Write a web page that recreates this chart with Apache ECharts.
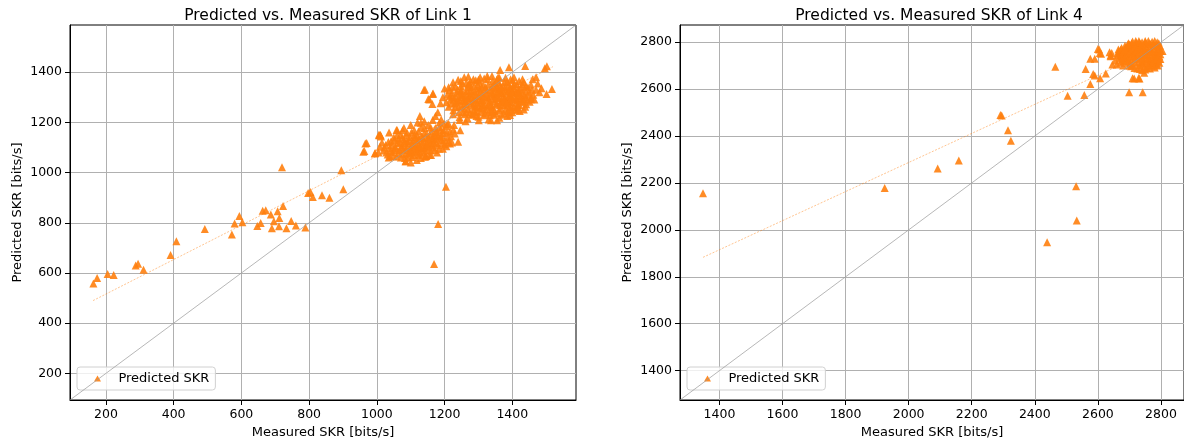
<!DOCTYPE html>
<html>
<head>
<meta charset="utf-8">
<script src="https://cdn.jsdelivr.net/npm/echarts@6/dist/echarts.min.js"></script>
<style>html,body{margin:0;padding:0;background:#fff}#c{width:1184px;height:447px}</style>
</head>
<body>
<div id="c"></div>
<script>
// ---------- Data ----------
const titles = ['Predicted vs. Measured SKR of Link 1', 'Predicted vs. Measured SKR of Link 4'];
const xLabel = 'Measured SKR [bits/s]';
const yLabel = 'Predicted SKR [bits/s]';
const seriesName = 'Predicted SKR';

const link1Range = [94, 1588];
const link4Range = [1275, 2873];
const link1Ticks = [200, 400, 600, 800, 1000, 1200, 1400];
const link4Ticks = [1400, 1600, 1800, 2000, 2200, 2400, 2600, 2800];

// fitted trend line end points (measured, predicted)
const link1Fit = [[162, 490], [1520, 1422]];
const link4Fit = [[1348, 1883], [2805, 2786]];

// Link 1 scattered points
const link1Sparse = [[163,558],[174,580],[205,596],[223,592],[288,630],[295,637],[311,613],[391,672],[408,726],[492,775],[572,753],[580,797],[594,827],[603,802],[647,787],[657,799],[663,848],[672,850],[687,833],[690,778],[696,806],[707,846],[711,786],[712,819],[720,1021],[723,867],[733,778],[747,807],[761,789],[789,781],[797,919],[804,923],[811,903],[838,910],[860,900],[895,1009],[901,934],[1169,636],[1181,795],[1204,944]];

// Link 1 middle cluster
const link1Mid = [[966,1116],[960,1083],[1007,1149],[1011,1149],[994,1076],[1060,1169],[1076,1169],[1035,1060],[1009,1103],[963,1086],[970,1118],[995,1078],[1006,1151],[1012,1144],[1038,1065],[1085,1045],[1144,1065],
[1020,1088],[1026,1110],[1032,1072],[1038,1098],[1042,1125],[1046,1082],[1050,1140],[1054,1104],[1058,1064],[1062,1120],[1066,1090],[1070,1150],[1073,1075],[1076,1108],[1080,1132],[1083,1058],[1086,1095],[1089,1160],[1092,1118],[1095,1078],[1098,1142],[1101,1100],[1104,1062],[1107,1128],[1110,1170],[1113,1086],[1116,1112],[1119,1148],[1122,1070],[1125,1135],[1128,1098],[1131,1180],[1134,1120],[1137,1082],[1140,1158],[1143,1104],[1146,1066],[1149,1140],[1152,1190],[1155,1115],[1158,1088],[1161,1165],[1164,1128],[1167,1100],[1170,1150],[1173,1178],[1176,1118],[1180,1145],[1184,1095],[1188,1170],[1192,1130],[1196,1158],[1200,1112],[1205,1185],[1210,1140],[1216,1165],[1222,1120],
[1005,1080],[1010,1150],[1015,1120],[1036,1160],[1058,1170],[1085,1045],[1100,1040],[1118,1050],[1130,1058],[1142,1063],[1160,1070],[1178,1080],[1195,1095],[1205,1105],[1230,1156],[1246,1169],[1240,1123],[1216,1116],[1080,1178],[1100,1190],[1120,1200],[1140,1205],[1165,1210],[1185,1200],[1127,1225],[1130,1199],
[1072,1100],[1088,1125],[1096,1090],[1108,1105],[1112,1140],[1124,1115],[1136,1138],[1148,1120],[1156,1150],[1166,1135],[1178,1160],[1190,1150],[1104,1080],[1120,1092],[1138,1096],[1150,1100],[1052,1090],[1064,1135],
[1022,1100],[1028,1080],[1034,1122],[1040,1085],[1044,1110],[1048,1065],[1052,1130],[1056,1096],[1060,1150],[1064,1078],[1068,1118],[1071,1060],[1075,1140],[1078,1090],[1081,1120],[1084,1072],[1087,1150],[1090,1100],[1093,1060],[1096,1128],[1099,1085],[1102,1160],[1105,1115],[1108,1070],[1111,1150],[1114,1098],[1117,1130],[1120,1082],[1123,1165],[1126,1105],[1129,1075],[1132,1145],[1135,1098],[1138,1125],[1141,1178],[1144,1088],[1147,1155],[1150,1112],[1153,1135],[1156,1070],[1159,1180],[1162,1108],[1165,1145],[1168,1120],[1171,1090],[1174,1160],[1177,1135],[1181,1110],[1185,1182],[1189,1140],[1193,1118],[1197,1170],[1202,1130],[1207,1160],[1212,1122],[1219,1145],[1226,1172],[1208,1192],[1198,1195]];

// Link 1 upper cluster
const link1Top = [[1139,1329],[1165,1313],[1152,1293],[1164,1273],[1188,1276],[1364,1409],[1390,1420],[1438,1425],[1496,1416],[1502,1424],[1517,1333],[1501,1313],[1486,1336],[1455,1292],[1460,1372],[1301,1209],[1337,1209],[1355,1209],[1393,1229],[1248,1365],[1270,1383],[1214,1329],[1142,1331],[1155,1291],[1166,1315],[1465,1291],[1434,1251],[1475,1355],[1470,1380],[1200,1335],[1195,1300],[1205,1280],[1180,1240],[1173,1225],[1190,1212],[1212,1195],[1228,1190],[1262,1205],[1245,1210],
[1212,1262],[1218,1290],[1222,1318],[1226,1248],[1230,1275],[1234,1302],[1238,1330],[1241,1262],[1245,1288],[1248,1345],[1252,1312],[1255,1240],[1258,1272],[1261,1298],[1264,1358],[1267,1325],[1270,1252],[1272,1283],[1275,1310],[1278,1340],[1281,1232],[1284,1266],[1286,1294],[1289,1322],[1292,1368],[1295,1245],[1297,1278],[1300,1305],[1303,1335],[1306,1258],[1308,1288],[1311,1316],[1314,1350],[1316,1228],[1319,1270],[1322,1298],[1325,1326],[1327,1372],[1330,1242],[1333,1282],[1335,1310],[1338,1340],[1341,1262],[1344,1292],[1346,1320],[1349,1356],[1352,1236],[1354,1275],[1357,1302],[1360,1332],[1362,1378],[1365,1255],[1368,1288],[1370,1315],[1373,1345],[1376,1268],[1378,1296],[1381,1324],[1384,1360],[1386,1244],[1389,1282],[1392,1308],[1394,1338],[1397,1262],[1400,1292],[1403,1320],[1406,1352],[1409,1250],[1412,1278],[1415,1305],[1418,1334],[1421,1268],[1424,1296],[1428,1322],[1432,1280],[1436,1310],[1440,1345],[1444,1290],[1449,1322],[1455,1300],
[1250,1300],[1262,1285],[1280,1300],[1292,1262],[1298,1350],[1310,1280],[1318,1332],[1328,1300],[1336,1268],[1340,1316],[1348,1285],[1355,1340],[1361,1296],[1366,1318],[1372,1280],[1380,1340],[1388,1300],[1395,1280],[1402,1345],[1410,1318],[1416,1290],[1425,1340],[1434,1360],[1320,1250],[1345,1230],[1375,1235],[1400,1240],[1290,1240],[1270,1350],[1285,1372],[1305,1380],[1340,1385],[1360,1360],[1395,1372],[1420,1365],[1232,1345],[1240,1370],[1258,1380],[1225,1232],[1244,1220],[1268,1215],[1300,1222],[1330,1212],[1362,1218],[1385,1225],[1415,1250],[1438,1262],
[1216,1305],[1220,1275],[1224,1340],[1228,1295],[1232,1260],[1236,1318],[1240,1285],[1243,1240],[1247,1325],[1250,1265],[1253,1355],[1256,1290],[1259,1232],[1262,1318],[1265,1270],[1268,1340],[1271,1298],[1274,1238],[1277,1362],[1279,1275],[1282,1318],[1285,1250],[1288,1345],[1291,1288],[1294,1225],[1296,1330],[1299,1262],[1302,1362],[1304,1295],[1307,1240],[1309,1340],[1312,1268],[1315,1305],[1317,1375],[1320,1235],[1323,1315],[1326,1262],[1329,1350],[1331,1290],[1334,1228],[1337,1328],[1339,1252],[1342,1365],[1345,1305],[1347,1245],[1350,1335],[1353,1270],[1356,1318],[1358,1380],[1361,1248],[1363,1345],[1366,1280],[1369,1230],[1371,1330],[1374,1300],[1377,1362],[1379,1250],[1382,1290],[1385,1318],[1387,1270],[1390,1350],[1393,1240],[1396,1325],[1398,1300],[1401,1368],[1404,1262],[1407,1335],[1410,1290],[1413,1352],[1416,1270],[1419,1318],[1422,1245],[1426,1305],[1430,1352],[1433,1292],[1437,1330],[1441,1272],[1446,1340],[1451,1282],[1458,1330],[1462,1310],
[1222,1300],[1235,1280],[1246,1308],[1257,1255],[1266,1295],[1276,1325],[1287,1275],[1293,1305],[1305,1320],[1313,1290],[1321,1340],[1332,1268],[1343,1345],[1351,1298],[1359,1315],[1367,1338],[1375,1288],[1383,1275],[1391,1332],[1399,1318],[1408,1300],[1417,1320],[1427,1285],[1439,1300],[1264,1240],[1283,1230],[1311,1255],[1339,1240],[1364,1268],[1392,1258],[1415,1260],[1446,1310],[1250,1330],[1273,1355],[1300,1370],[1326,1385],[1354,1370],[1380,1378],[1405,1380],[1430,1372],[1455,1350],[1470,1330],[1480,1320],[1225,1360],[1212,1340],[1208,1310]];

// Link 4 scattered points
const link4Sparse = [[1348,2156],[1924,2178],[2092,2262],[2159,2296],[2291,2490],[2295,2487],[2315,2424],[2324,2380],[2439,1947],[2465,2695],[2504,2572],[2531,2186],[2533,2040],[2557,2575],[2561,2686],[2576,2729],[2576,2622],[2590,2729],[2590,2658],[2604,2769],[2610,2750],[2607,2646],[2625,2666],[2641,2740],[2644,2754],[2646,2705],[2665,2769],[2699,2586],[2715,2645],[2732,2645],[2742,2586],[2747,2669],[2805,2762],[2705,2697],[2710,2646],[2729,2646],[2637,2757],[2640,2743],[2585,2664],[2600,2771],[2606,2754]];

// Link 4 dense cluster
const link4Blob = [[2662,2745],[2666,2762],[2670,2730],[2675,2775],[2678,2750],[2682,2720],[2686,2785],[2690,2760],[2693,2738],[2697,2795],[2700,2772],[2703,2750],[2706,2725],[2709,2788],[2712,2765],[2715,2742],[2718,2712],[2721,2798],[2724,2778],[2727,2755],[2730,2730],[2733,2702],[2736,2790],[2739,2768],[2742,2745],[2745,2720],[2748,2695],[2751,2800],[2754,2780],[2757,2758],[2760,2735],[2763,2710],[2766,2792],[2769,2770],[2772,2748],[2775,2722],[2778,2700],[2781,2785],[2784,2762],[2787,2740],[2790,2718],[2793,2795],[2796,2770],[2798,2748],
[2680,2700],[2695,2712],[2710,2700],[2725,2688],[2740,2680],[2755,2690],[2770,2700],[2785,2705],[2750,2805],[2720,2805],[2700,2790],[2735,2740],[2760,2760],[2745,2775],[2728,2790],[2772,2802],[2788,2800],[2690,2770],[2655,2722],[2660,2705],[2672,2712],[2684,2740],[2702,2710],[2716,2760],[2732,2772],[2748,2752],[2764,2728],[2780,2745],[2794,2728],[2738,2712],[2752,2728],[2768,2715],[2782,2725],
[2664,2752],[2668,2738],[2672,2768],[2676,2742],[2680,2760],[2683,2730],[2688,2775],[2691,2748],[2694,2722],[2698,2780],[2701,2758],[2704,2738],[2707,2795],[2711,2775],[2714,2752],[2717,2728],[2720,2785],[2723,2765],[2726,2740],[2729,2716],[2732,2798],[2735,2778],[2738,2755],[2741,2732],[2744,2708],[2747,2790],[2750,2768],[2753,2745],[2756,2722],[2759,2700],[2762,2795],[2765,2775],[2768,2758],[2771,2735],[2774,2712],[2777,2790],[2780,2770],[2783,2750],[2786,2728],[2789,2785],[2792,2760],[2795,2740],[2797,2785],[2799,2762],[2730,2805],[2740,2800],[2760,2805],[2780,2805],[2710,2803],[2695,2790],[2685,2770],[2676,2725],[2700,2700],[2716,2690],[2733,2685],[2750,2683],[2765,2688],[2780,2692],[2790,2700],[2795,2712],[2798,2728]];

// ---------- Chart ----------
const orange = '#ff7f0e';
const font = 'DejaVu Sans';
const grids = [
  {left: 70, top: 25, width: 506, height: 375},
  {left: 680, top: 25, width: 508, height: 375}
];
const plainNum = v => String(v);

function xAxisFor(i, range, ticks) {
  return {
    type: 'value', gridIndex: i, min: range[0], max: range[1],
    name: xLabel, nameLocation: 'middle', nameGap: 25,
    nameTextStyle: {fontFamily: font, fontSize: 13, color: '#000'},
    axisLine: {show: true, onZero: false, lineStyle: {color: '#000', width: 1}},
    axisTick: {show: true, length: 5, lineStyle: {color: '#000'}, customValues: ticks},
    axisLabel: {customValues: ticks, formatter: plainNum, fontFamily: font, fontSize: 12.5, color: '#000', margin: 8},
    splitLine: {show: true, lineStyle: {color: '#b0b0b0', width: 1}}
  };
}
function yAxisFor(i, range, ticks) {
  return {
    type: 'value', gridIndex: i, min: range[0], max: range[1],
    name: yLabel, nameLocation: 'middle', nameGap: 46,
    nameTextStyle: {fontFamily: font, fontSize: 13, color: '#000'},
    axisLine: {show: true, onZero: false, lineStyle: {color: '#000', width: 1}},
    axisTick: {show: true, length: 5, lineStyle: {color: '#000'}, customValues: ticks},
    axisLabel: {customValues: ticks, formatter: plainNum, fontFamily: font, fontSize: 12.5, color: '#000', margin: 8},
    splitLine: {show: true, lineStyle: {color: '#b0b0b0', width: 1}}
  };
}

function seriesFor(i, points, fit, range) {
  return [
    {name: seriesName, type: 'scatter', xAxisIndex: i, yAxisIndex: i, data: points,
     symbol: 'triangle', symbolSize: 8, itemStyle: {color: orange, opacity: 0.9}, z: 2, silent: true},
    {type: 'line', xAxisIndex: i, yAxisIndex: i, data: fit, symbol: 'none',
     lineStyle: {color: orange, width: 0.9, opacity: 0.5, type: [2, 1.5]}, z: 3, silent: true},
    {type: 'line', xAxisIndex: i, yAxisIndex: i, data: [[range[0], range[0]], [range[1], range[1]]], symbol: 'none',
     lineStyle: {color: '#9a9a9a', width: 0.8, opacity: 0.9}, z: 4, silent: true}
  ];
}

const legendCommon = {
  data: [{name: seriesName, icon: 'triangle'}],
  orient: 'vertical', itemWidth: 7, itemHeight: 6,
  formatter: '   ' + seriesName,
  textStyle: {fontFamily: font, fontSize: 13, color: '#000'},
  backgroundColor: 'rgba(255,255,255,0.8)', borderColor: '#d0d0d0', borderWidth: 1, borderRadius: 3,
  padding: [5, 6, 5, 17], selectedMode: false
};

const chart = echarts.init(document.getElementById('c'), null, {renderer: 'canvas'});
chart.setOption({
  animation: false,
  title: [
    {text: titles[0], left: 323, top: 3, textAlign: 'center', textStyle: {fontFamily: font, fontSize: 15.5, fontWeight: 'normal', color: '#000'}},
    {text: titles[1], left: 934, top: 3, textAlign: 'center', textStyle: {fontFamily: font, fontSize: 15.5, fontWeight: 'normal', color: '#000'}}
  ],
  legend: [
    Object.assign({left: 77, top: 367}, legendCommon),
    Object.assign({left: 687, top: 367}, legendCommon)
  ],
  grid: grids.map(g => Object.assign({show: true, borderColor: '#000', borderWidth: 1, backgroundColor: 'transparent', containLabel: false}, g)),
  xAxis: [xAxisFor(0, link1Range, link1Ticks), xAxisFor(1, link4Range, link4Ticks)],
  yAxis: [yAxisFor(0, link1Range, link1Ticks), yAxisFor(1, link4Range, link4Ticks)],
  series: [
    ...seriesFor(0, link1Sparse.concat(link1Mid, link1Top), link1Fit, link1Range),
    ...seriesFor(1, link4Sparse.concat(link4Blob), link4Fit, link4Range)
  ]
});
</script>
</body>
</html>
